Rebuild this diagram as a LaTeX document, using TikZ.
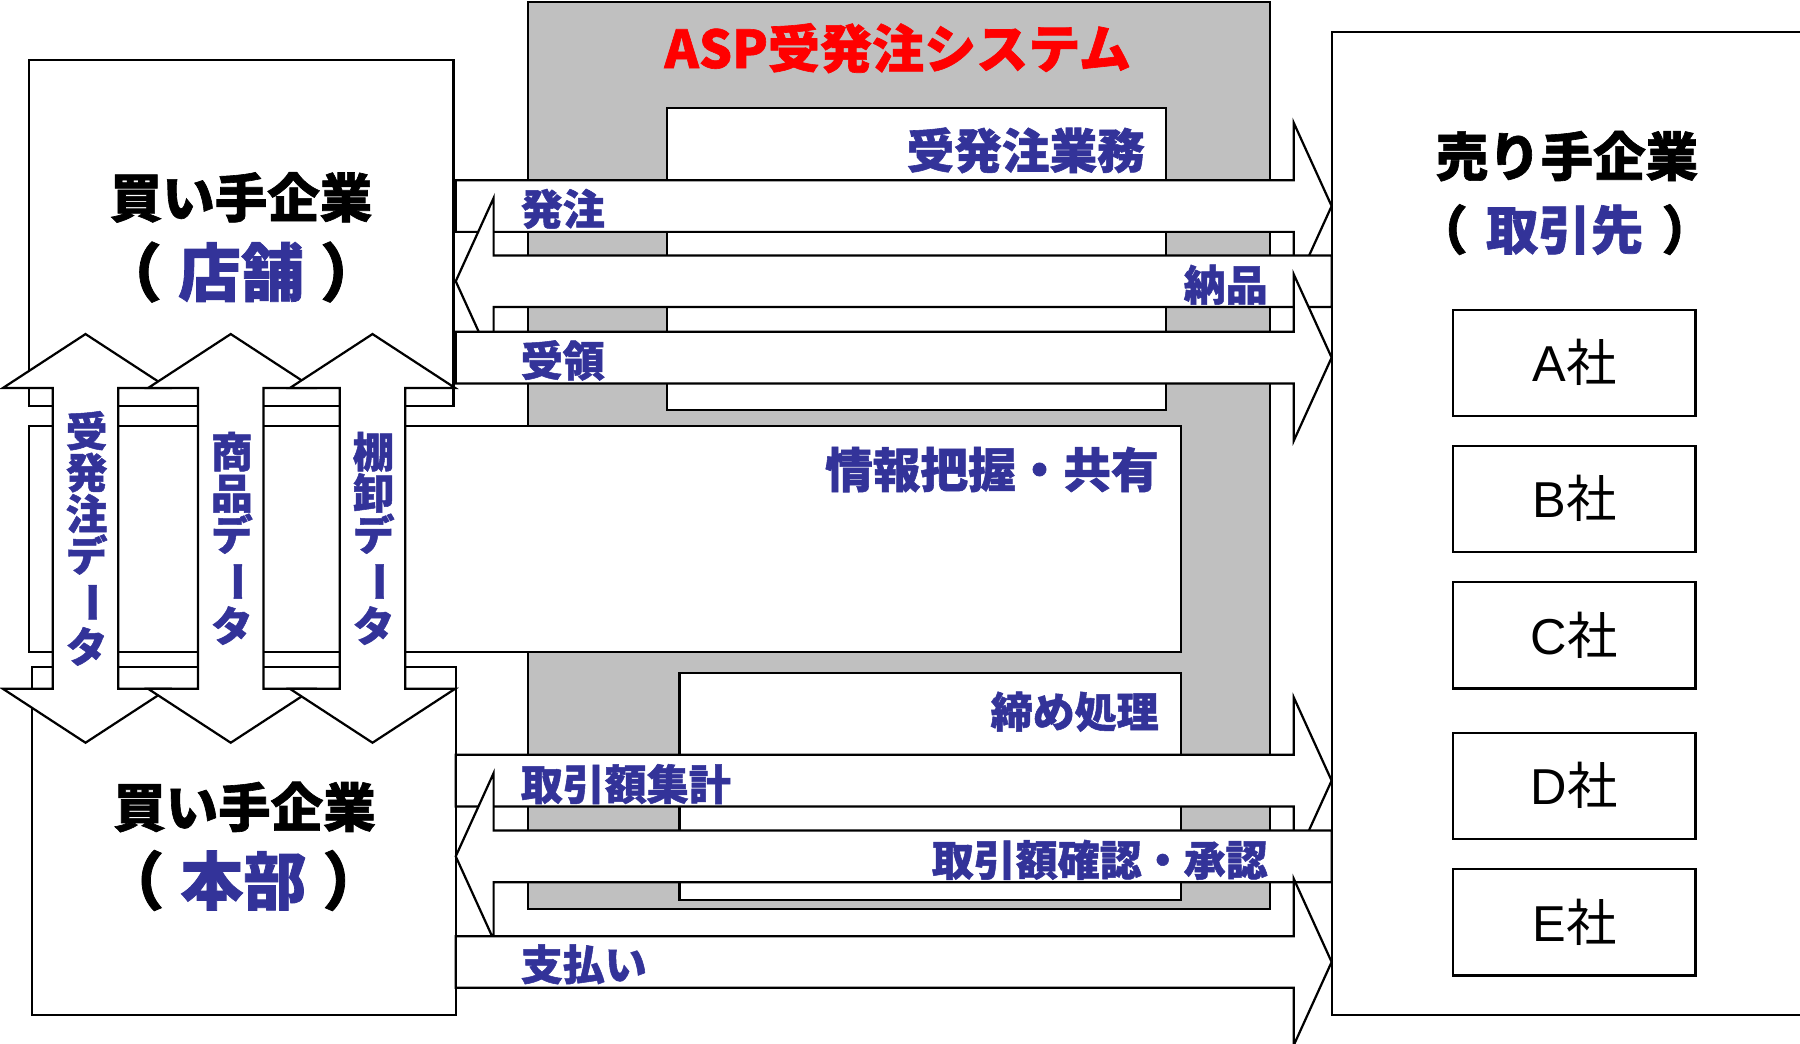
\documentclass[tikz,border=0pt]{standalone}
\usepackage{fontspec}
\setmainfont{Noto Sans CJK JP}[BoldFeatures={FakeBold=1.2}]
\newfontfamily\latfont{Liberation Sans}
\usetikzlibrary{fit}
\definecolor{jblue}{RGB}{51,51,153}
\definecolor{agray}{RGB}{192,192,192}
\tikzset{
 box/.style={draw=black, line width=0.55pt, fill=white, inner sep=0pt},
 blk/.style={draw=black, line width=0.55pt, fill=white, line join=miter},
 lab/.style={inner sep=0pt, text=jblue, font=\bfseries\fontsize{10.4}{12}\selectfont},
 sublab/.style={inner sep=0pt, text=jblue, font=\bfseries\fontsize{11.8}{14}\selectfont},
 ttl/.style={inner sep=0pt, text=red, font=\bfseries\fontsize{12.9}{15}\selectfont},
 hd/.style={inner sep=0pt, text=black, font=\bfseries\fontsize{13}{15}\selectfont},
 hdbig/.style={inner sep=0pt, text=black, font=\bfseries\fontsize{15.6}{18}\selectfont},
 vlab/.style={inner sep=0pt, text=jblue, align=center, font=\bfseries\fontsize{10.3}{10.24}\selectfont},
 comp/.style={draw=black, line width=0.55pt, fill=white, minimum width=2.11cm, minimum height=0.925cm, inner sep=0pt, font=\fontsize{12.5}{14}\selectfont},
}
% horizontal block arrow: shaft far end x, head base x, apex x, centre y
\newcommand\BlkArrH[4]{\draw[blk] (#1,#4-22.5) -- (#2,#4-22.5) -- (#2,#4-72.5) -- (#3,#4) -- (#2,#4+72.5) -- (#2,#4+22.5) -- (#1,#4+22.5) -- cycle;}
% vertical double block arrow: centre x
\newcommand\BlkArrV[1]{\draw[blk] (#1,291) -- (#1+72,338) -- (#1+28.5,338) -- (#1+28.5,600) -- (#1+72,600) -- (#1,647) -- (#1-72,600) -- (#1-28.5,600) -- (#1-28.5,338) -- (#1-72,338) -- cycle;}
\newcommand\VBar{\rotatebox[origin=c]{-90}{ー}}
\begin{document}
\begin{tikzpicture}[x=0.01cm, y=-0.01cm]
\useasboundingbox (0,0) rectangle (1568,909);
\clip (0,0) rectangle (1568,909);
% ASP system
\node[box, fill=agray, fit={(460,2) (1106,792)}] (asp) {};
\node[ttl] (aspT) at (782,42) {ASP受発注システム};
\node[box, fit={(581,94) (1016,357)}] (jhc) {};
\node[sublab, anchor=east] (jhcT) at (998,131) {受発注業務};
\node[box, fit={(25,371) (1029,568)}] (info) {};
\node[sublab, anchor=east] (infoT) at (1010,409) {情報把握・共有};
\node[box, fit={(592,586) (1029,784)}] (shime) {};
\node[lab, anchor=east] (shimeT) at (1010,620) {締め処理};
% buyer boxes
\node[box, fit={(25,52) (395,354)}] (store) {};
\node[hd] (storeT1) at (210,172) {買い手企業};
\node[hdbig] (storeT2) at (210,237) {（\hspace{4pt}{\color{jblue}店舗}\hspace{4pt}）};
\node[box, fit={(28,581) (397,884)}] (hq) {};
\node[hd] (hqT1) at (213,703) {買い手企業};
\node[hdbig] (hqT2) at (212,767) {（\hspace{4pt}{\color{jblue}本部}\hspace{4pt}）};
% seller
\node[box, fit={(1160,28) (1620,884)}] (seller) {};
\node[hd] (sellerT1) at (1365,136) {売り手企業};
\node[hd] (sellerT2) at (1363,200) {（\hspace{4.5pt}{\color{jblue}取引先}\hspace{4.5pt}）};
\node[comp] (coA) at (1371.5,316) {{\latfont A}社};
\node[comp] (coB) at (1371.5,434.5) {{\latfont B}社};
\node[comp] (coC) at (1371.5,553.5) {{\latfont C}社};
\node[comp] (coD) at (1371.5,684.5) {{\latfont D}社};
\node[comp] (coE) at (1371.5,803.5) {{\latfont E}社};
% horizontal block arrows
\BlkArrH{397}{1127}{1160}{179.5}
\node[lab, anchor=west] (lHat) at (453,182) {発注};
\BlkArrH{1160}{430}{397}{245}
\node[lab, anchor=east] (lNou) at (1105,248) {納品};
\BlkArrH{397}{1127}{1160}{311.5}
\node[lab, anchor=west] (lJyu) at (453,314) {受領};
\BlkArrH{397}{1127}{1160}{680}
\node[lab, anchor=west] (lShu) at (453,683) {取引額集計};
\BlkArrH{1160}{430}{397}{746}
\node[lab, anchor=east] (lKak) at (1105,749) {取引額確認・承認};
\BlkArrH{397}{1127}{1160}{838}
\node[lab, anchor=west] (lShi) at (453,840) {支払い};
% vertical double arrows
\BlkArrV{74.5}
\node[vlab] (v1) at (75.5,469) {受\\発\\注\\デ\\\VBar\\タ};
\BlkArrV{201}
\node[vlab] (v2) at (202,469) {商\\品\\デ\\\VBar\\タ};
\BlkArrV{324.5}
\node[vlab] (v3) at (325.5,469) {棚\\卸\\デ\\\VBar\\タ};
\end{tikzpicture}
\end{document}
